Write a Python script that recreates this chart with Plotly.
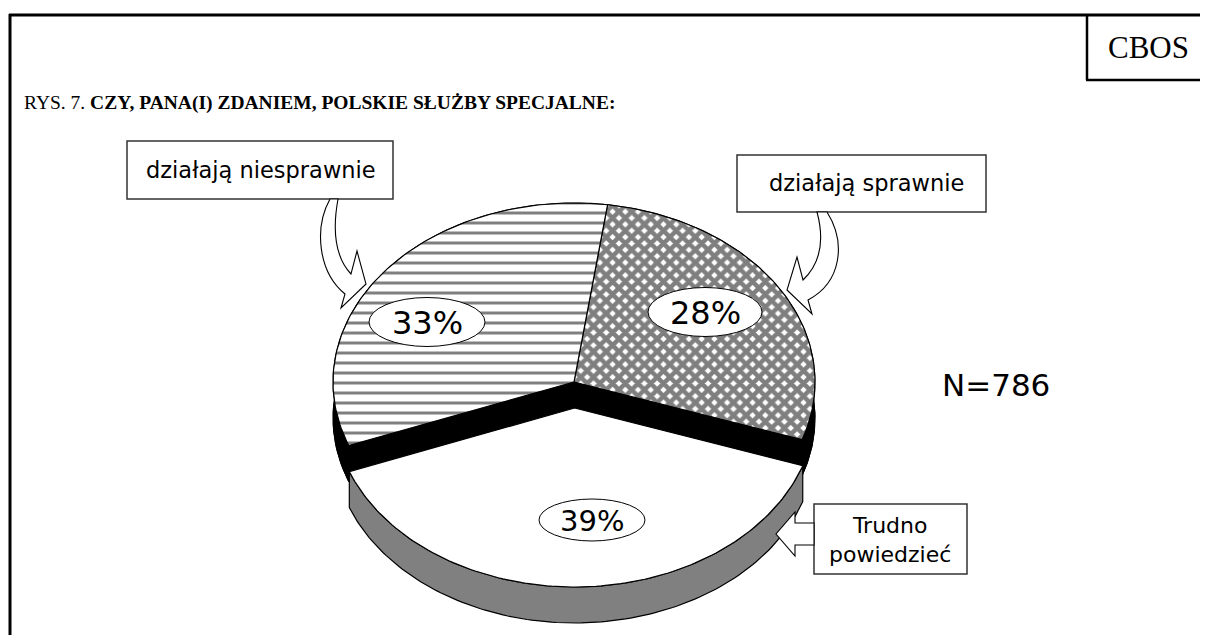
import numpy as np
import plotly.graph_objects as go

# ---------------- data ----------------
categories = ["działają sprawnie", "Trudno powiedzieć", "działają niesprawnie"]
values = [28, 39, 33]
pct_labels = ["28%", "39%", "33%"]
exploded = [False, True, False]
patterns = ["x", "", "-"]
sample_n = 786
title_prefix = "RYS. 7."
title_main = "CZY, PANA(I) ZDANIEM, POLSKIE SŁUŻBY SPECJALNE:"
source = "CBOS"

# ---------------- geometry (page pixel coordinates) ----------------
W, H = 1208, 635
OFF = 8  # default page margin of the html body
CX, CY, RX, RY = 574, 382, 241, 179
DEPTH = 36
EXPLODE = 26
START = 8.0


def arc(cx, cy, a0, a1, n=120):
    t = np.radians(np.linspace(a0, a1, n))
    return cx + RX * np.sin(t), cy - RY * np.cos(t)


total = float(sum(values))
slices = []
a = START
for v, ex in zip(values, exploded):
    a0, a1 = a, a + v / total * 360.0
    bis = np.radians((a0 + a1) / 2)
    f = EXPLODE / RY if ex else 0.0
    ox, oy = f * RX * np.sin(bis), -f * RY * np.cos(bis)
    slices.append((a0, a1, CX + ox, CY + oy))
    a = a1

fig = go.Figure()


def add_poly(xs, ys, **kw):
    fig.add_trace(go.Scatter(x=list(xs), y=list(ys), mode="lines", fill="toself",
                             hoverinfo="skip", showlegend=False, **kw))


black = dict(fillcolor="black", line=dict(color="black", width=1))
# black side walls of the back slices
for (a0, a1, cx, cy), ex in zip(slices, exploded):
    if ex:
        continue
    tx, ty = arc(cx, cy, a0, a1)
    ax, ay = tx, ty + DEPTH
    add_poly([cx] + list(ax) + [cx], [cy + DEPTH] + list(ay) + [cy + DEPTH], **black)
    add_poly(list(tx) + list(ax[::-1]), list(ty) + list(ay[::-1]), **black)
    for k in (0, -1):
        add_poly([cx, tx[k], tx[k], cx], [cy, ty[k], ty[k] + DEPTH, cy + DEPTH], **black)

# top faces of back slices
for (a0, a1, cx, cy), ex, pat in zip(slices, exploded, patterns):
    if ex:
        continue
    tx, ty = arc(cx, cy, a0, a1)
    if pat == "x":
        fp = dict(shape="x", fgcolor="black", bgcolor="white", size=9, solidity=0.75)
    else:
        fp = dict(shape="-", fgcolor="black", bgcolor="white", size=10, solidity=0.3)
    add_poly([cx] + list(tx) + [cx], [cy] + list(ty) + [cy], fillcolor="white",
             fillpattern=fp, line=dict(color="black", width=1.2))

# exploded slice: grey wall then white top
for (a0, a1, cx, cy), ex in zip(slices, exploded):
    if not ex:
        continue
    tx, ty = arc(cx, cy, a0, a1)
    add_poly(list(tx) + list(tx[::-1]) + [tx[0]],
             list(ty) + list((ty + DEPTH)[::-1]) + [ty[0]],
             fillcolor="#808080", line=dict(color="black", width=1.2))
    add_poly([cx] + list(tx) + [cx], [cy] + list(ty) + [cy],
             fillcolor="white", line=dict(color="black", width=1.2))

# ---------------- decorations ----------------
shapes = []
shapes.append(dict(type="line", x0=9, y0=15, x1=W, y1=15, line=dict(color="black", width=3)))
shapes.append(dict(type="line", x0=10, y0=14, x1=10, y1=H, line=dict(color="black", width=3)))
shapes.append(dict(type="line", x0=1087, y0=15, x1=1087, y1=80, line=dict(color="black", width=2.5)))
shapes.append(dict(type="line", x0=1086, y0=80, x1=W, y1=80, line=dict(color="black", width=2.5)))

box_line = dict(color="#333333", width=1.5)
shapes.append(dict(type="rect", x0=127, y0=141, x1=393, y1=199, fillcolor="white", line=box_line))
shapes.append(dict(type="rect", x0=737, y0=155, x1=986, y1=212, fillcolor="white", line=box_line))
shapes.append(dict(type="rect", x0=814, y0=504, x1=967, y1=574, fillcolor="white", line=box_line))

arrow_line = dict(color="black", width=1.1)
shapes.append(dict(type="path",
                   path="M330,199 C314,228 318,272 345,294 L341,308 L366,284 L357,251 "
                        "L351,274 C336,258 332,232 338,199 Z",
                   fillcolor="white", line=arrow_line))
shapes.append(dict(type="path",
                   path="M827,212 C846,242 842,282 808,300 L812,314 L787,290 L797,257 "
                        "L803,280 C822,262 824,238 817,212 Z",
                   fillcolor="white", line=arrow_line))
shapes.append(dict(type="path",
                   path="M814,523 L795,523 L795,512 L776,534 L795,556 L795,545 L814,545 Z",
                   fillcolor="white", line=arrow_line))

pct_pos = {"28%": (705, 312, 57, 24.5), "33%": (427, 322, 58, 24.5), "39%": (592, 520, 53, 21)}
for lab in pct_labels:
    x, y, rx, ry = pct_pos[lab]
    shapes.append(dict(type="circle", x0=x - rx, x1=x + rx, y0=y - ry, y1=y + ry,
                       fillcolor="white", line=dict(color="black", width=1)))

annotations = []
sans = "DejaVu Sans"
serif = "Liberation Serif"
for lab in pct_labels:
    x, y, rx, ry = pct_pos[lab]
    annotations.append(dict(x=x, y=y + 1, text=lab, showarrow=False,
                            font=dict(family=sans, size=32 if lab != "39%" else 29, color="black")))

annotations.append(dict(x=261, y=170, text=categories[2], showarrow=False,
                        font=dict(family=sans, size=22.5, color="black")))
annotations.append(dict(x=866, y=183, text=categories[0], showarrow=False,
                        font=dict(family=sans, size=22.5, color="black")))
annotations.append(dict(x=890, y=540, text="Trudno<br>powiedzieć", showarrow=False,
                        font=dict(family=sans, size=22, color="black")))
annotations.append(dict(x=996, y=385, text=f"N={sample_n}", showarrow=False,
                        font=dict(family=sans, size=31, color="black")))
annotations.append(dict(x=1148, y=47, text=source, showarrow=False,
                        font=dict(family=serif, size=31, color="black")))
annotations.append(dict(x=22, y=103, xanchor="left", text=f"{title_prefix} <b>{title_main}</b>",
                        showarrow=False, font=dict(family=serif, size=19.5, color="black")))

fig.update_layout(
    width=W - OFF, height=H - OFF,
    margin=dict(l=0, r=0, t=0, b=0),
    paper_bgcolor="white", plot_bgcolor="white",
    xaxis=dict(range=[OFF, W], visible=False, fixedrange=True),
    yaxis=dict(range=[H, OFF], visible=False, fixedrange=True),
    shapes=shapes, annotations=annotations, showlegend=False,
)

fig.write_html("out.html", config={"displayModeBar": False})
